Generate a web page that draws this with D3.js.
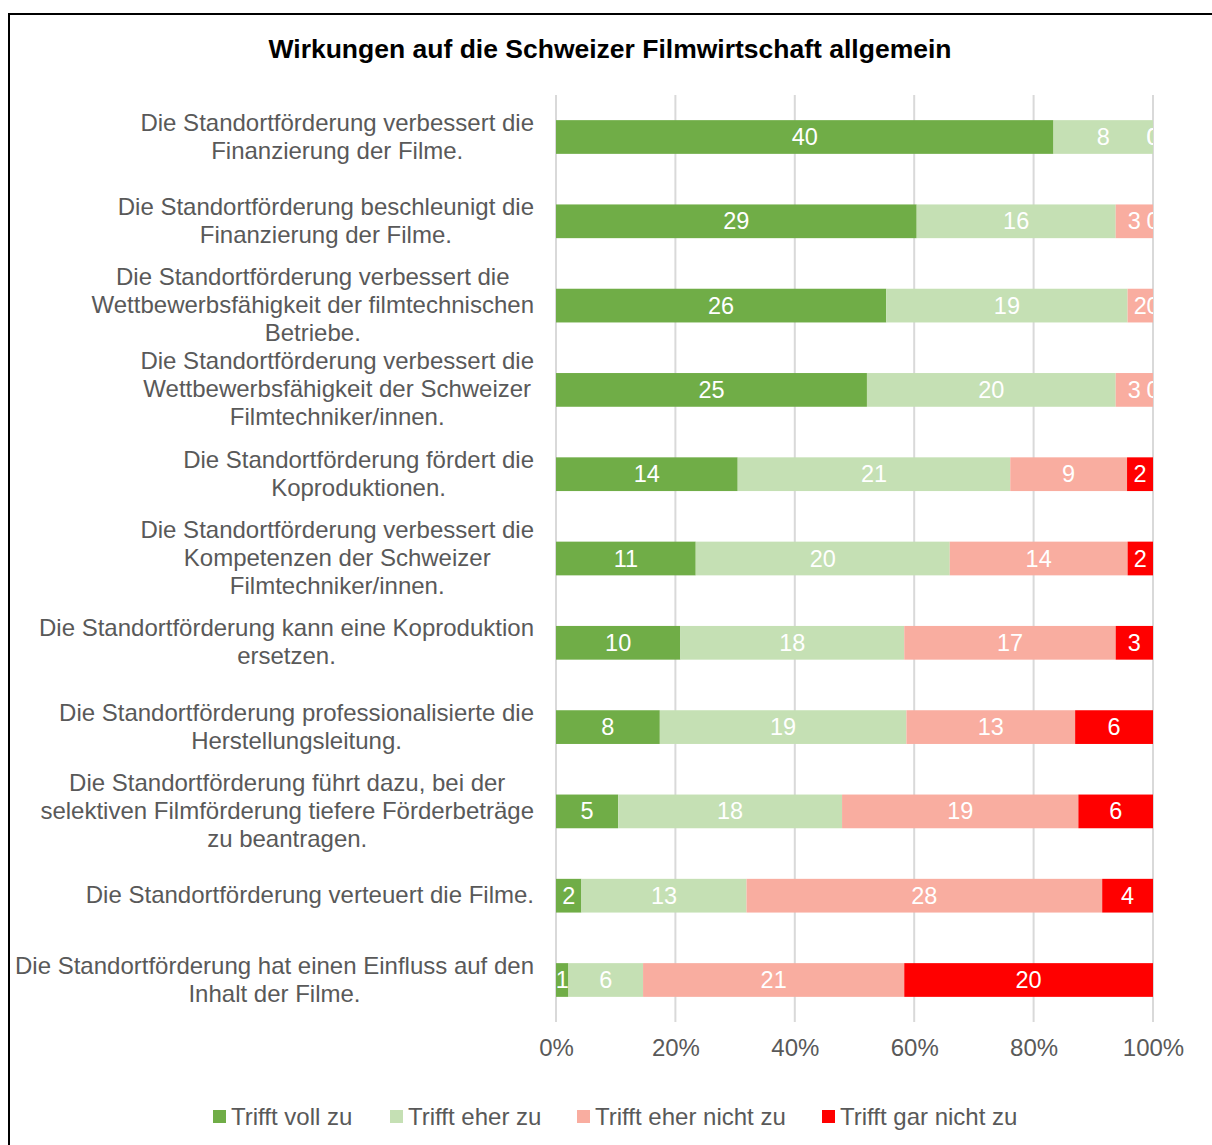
<!DOCTYPE html>
<html>
<head>
<meta charset="utf-8">
<script src="https://cdn.jsdelivr.net/npm/d3@7"></script>
<style>
  body { margin: 0; background: #fff; }
  svg text { font-family: "Liberation Sans", Arial, sans-serif; }
</style>
</head>
<body>
<svg id="chart"></svg>
<script>
const width = 1212;
const height = 1145;

// data
const categories = [
  ["Die Standortförderung verbessert die", "Finanzierung der Filme."],
  ["Die Standortförderung beschleunigt die", "Finanzierung der Filme."],
  ["Die Standortförderung verbessert die", "Wettbewerbsfähigkeit der filmtechnischen", "Betriebe."],
  ["Die Standortförderung verbessert die", "Wettbewerbsfähigkeit der Schweizer", "Filmtechniker/innen."],
  ["Die Standortförderung fördert die", "Koproduktionen."],
  ["Die Standortförderung verbessert die", "Kompetenzen der Schweizer", "Filmtechniker/innen."],
  ["Die Standortförderung kann eine Koproduktion", "ersetzen."],
  ["Die Standortförderung professionalisierte die", "Herstellungsleitung."],
  ["Die Standortförderung führt dazu, bei der", "selektiven Filmförderung tiefere Förderbeträge", "zu beantragen."],
  ["Die Standortförderung verteuert die Filme."],
  ["Die Standortförderung hat einen Einfluss auf den", "Inhalt der Filme."]
];
const series = ["Trifft voll zu", "Trifft eher zu", "Trifft eher nicht zu", "Trifft gar nicht zu"];
const vollZu      = [40, 29, 26, 25, 14, 11, 10, 8, 5, 2, 1];
const eherZu      = [8, 16, 19, 20, 21, 20, 18, 19, 18, 13, 6];
const eherNichtZu = [0, 3, 2, 3, 9, 14, 17, 13, 19, 28, 21];
const garNichtZu  = [0, 0, 0, 0, 2, 2, 3, 6, 6, 4, 20];
const colors = ["#70AD47", "#C5E0B4", "#F9ADA0", "#FF0000"];
const ticks = [0, 0.2, 0.4, 0.6, 0.8, 1];

const svg = d3.select("svg#chart")
  .attr("width", width)
  .attr("height", height);

svg.append("rect").attr("width", width).attr("height", height).attr("fill", "#fff");

// frame
svg.append("rect")
  .attr("x", 9).attr("y", 14)
  .attr("width", 1220).attr("height", 1150)
  .attr("fill", "none").attr("stroke", "#000").attr("stroke-width", 2);

svg.append("text")
  .attr("x", 610).attr("y", 58)
  .attr("text-anchor", "middle")
  .style("font-size", "26.5px").style("font-weight", "bold")
  .attr("fill", "#000")
  .text("Wirkungen auf die Schweizer Filmwirtschaft allgemein");

const x = d3.scaleLinear().domain([0, 1]).range([556, 1153]);
const y = d3.scaleBand()
  .domain(d3.range(categories.length))
  .range([94.85, 1022.15])
  .paddingInner(0.6)
  .paddingOuter(0.3);

// gridlines
svg.append("g").attr("id", "grid")
  .selectAll("line")
  .data(ticks)
  .enter().append("line")
    .attr("x1", d => x(d)).attr("x2", d => x(d))
    .attr("y1", 95).attr("y2", 1022)
    .attr("stroke", "#D9D9D9").attr("stroke-width", 2);

// x axis
const xAxis = svg.append("g")
  .attr("transform", "translate(0,1039)")
  .call(d3.axisBottom(x).tickValues(ticks).tickFormat(d3.format(".0%")).tickSize(0));
xAxis.select(".domain").remove();
xAxis.selectAll("text")
  .attr("y", 0).attr("dy", "0.72em")
  .style("font-size", "24px")
  .style("font-family", "Liberation Sans, Arial, sans-serif")
  .attr("fill", "#595959");

// stack
const rows = categories.map((c, i) => {
  const vals = [vollZu[i], eherZu[i], eherNichtZu[i], garNichtZu[i]];
  const total = d3.sum(vals);
  let acc = 0;
  return vals.map((v, k) => {
    const seg = {row: i, k: k, v: v, x0: acc / total, x1: (acc + v) / total};
    acc += v;
    return seg;
  });
});
const segs = rows.flat();

svg.append("defs").append("clipPath").attr("id", "plotclip")
  .append("rect").attr("x", 540).attr("y", 90).attr("width", 1153 - 540).attr("height", 940);

svg.append("g").attr("id", "bars")
  .selectAll("rect")
  .data(segs)
  .enter().append("rect")
    .attr("x", d => x(d.x0))
    .attr("y", d => y(d.row))
    .attr("width", d => x(d.x1) - x(d.x0))
    .attr("height", y.bandwidth())
    .attr("fill", d => colors[d.k]);

svg.append("g").attr("id", "labels")
  .attr("clip-path", "url(#plotclip)")
  .selectAll("text")
  .data(segs)
  .enter().append("text")
    .attr("x", d => (x(d.x0) + x(d.x1)) / 2)
    .attr("y", d => y(d.row) + y.bandwidth() / 2 + 8)
    .attr("text-anchor", "middle")
    .style("font-size", "23.5px")
    .attr("fill", "#fff")
    .text(d => d.v);

// category labels: block right-aligned at 533, lines centered within block
const catG = svg.append("g").attr("id", "cats");
categories.forEach((lines, i) => {
  const g = catG.append("g");
  const cy = y(i) + y.bandwidth() / 2;
  const texts = lines.map((t, j) => g.append("text")
    .attr("y", cy + (j - (lines.length - 1) / 2) * 28 + 7.5)
    .attr("text-anchor", "middle")
    .style("font-size", "24px")
    .attr("fill", "#595959")
    .text(t));
  const maxW = d3.max(texts, t => t.node().getComputedTextLength());
  texts.forEach(t => t.attr("x", 534 - maxW / 2));
});

// legend
const legendX = [213, 390, 577, 822];
const legend = svg.append("g").attr("id", "legend")
  .selectAll("g")
  .data(series)
  .enter().append("g")
    .attr("transform", (d, i) => "translate(" + legendX[i] + ",1110)");
legend.append("rect")
  .attr("width", 13).attr("height", 13)
  .attr("fill", (d, i) => colors[i]);
legend.append("text")
  .attr("x", 18).attr("y", 15)
  .style("font-size", "24px")
  .attr("fill", "#595959")
  .text(d => d);
</script>
</body>
</html>
